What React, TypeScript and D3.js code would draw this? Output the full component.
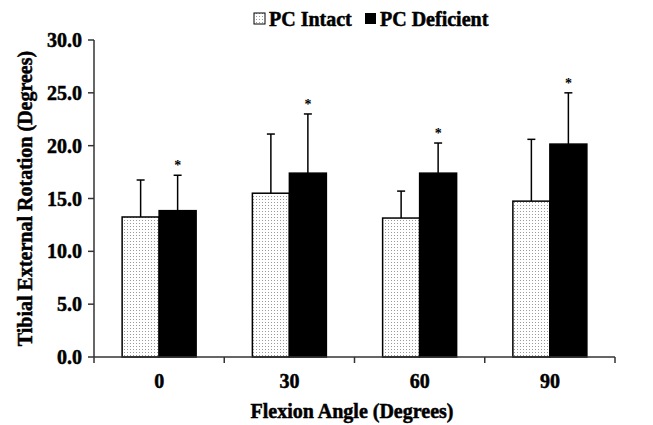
import React from "react";
import * as d3 from "d3";

const angles = ["0", "30", "60", "90"];
const intactMean = [13.25, 15.5, 13.15, 14.75];
const intactErr = [16.75, 21.1, 15.7, 20.6];
const deficientMean = [13.85, 17.4, 17.4, 20.15];
const deficientErr = [17.2, 23.0, 20.25, 25.0];
const yTicks = [0, 5, 10, 15, 20, 25, 30];

const W = 653;
const H = 425;
const margin = { top: 40, right: 38, bottom: 68, left: 94 };
const font = "'Liberation Serif', 'Times New Roman', serif";
const txt = { fontFamily: font, fontWeight: "bold" as const, fontSize: 20, stroke: "#000", strokeWidth: 0.5 };

export default function App() {
  const x = d3
    .scaleBand()
    .domain(angles)
    .range([margin.left, W - margin.right]);
  const y = d3.scaleLinear().domain([0, 30]).range([H - margin.bottom, margin.top]);
  const barW = 37;
  const y0 = y(0);

  const series = [
    { name: "PC Intact", mean: intactMean, err: intactErr, fill: "url(#dots)", off: -barW, star: false },
    { name: "PC Deficient", mean: deficientMean, err: deficientErr, fill: "#000", off: 0, star: true },
  ];

  return (
    <svg width={W} height={H} style={{ position: "absolute", left: 0, top: 0, background: "#fff" }}>
      <defs>
        <pattern id="dots" width="3" height="3" patternUnits="userSpaceOnUse">
          <rect width="3" height="3" fill="#fff" />
          <rect x="1" y="1" width="1" height="1" fill="#9a9a9a" />
        </pattern>
      </defs>

      {/* legend */}
      <g>
        <rect x={254} y={13} width={11} height={11} fill="url(#dots)" stroke="#000" strokeWidth={1} />
        <text x={269} y={26} {...txt}>PC Intact</text>
        <rect x={365} y={13} width={11} height={11} fill="#000" />
        <text x={380} y={26} {...txt}>PC Deficient</text>
      </g>

      {/* bars */}
      {series.map((s) =>
        angles.map((a, i) => {
          const cx = (x(a) as number) + x.bandwidth() / 2 + s.off;
          const mid = cx + barW / 2;
          return (
            <g key={s.name + a}>
              <line x1={mid} x2={mid} y1={y(s.mean[i])} y2={y(s.err[i])} stroke="#000" strokeWidth={1.5} />
              <line x1={mid - 4} x2={mid + 4} y1={y(s.err[i])} y2={y(s.err[i])} stroke="#000" strokeWidth={1.5} />
              <rect
                x={cx}
                y={y(s.mean[i])}
                width={barW}
                height={y0 - y(s.mean[i])}
                fill={s.fill}
                stroke="#000"
                strokeWidth={1.5}
              />
              {s.star && (
                <text x={mid} y={y(s.err[i]) - 5} textAnchor="middle" fontFamily={font} fontWeight="bold" fontSize={14}>
                  *
                </text>
              )}
            </g>
          );
        })
      )}

      {/* y axis */}
      <line x1={margin.left} x2={margin.left} y1={y(30)} y2={y0} stroke="#333" strokeWidth={1.5} />
      {yTicks.map((t) => (
        <g key={t}>
          <line x1={margin.left - 6} x2={margin.left} y1={y(t)} y2={y(t)} stroke="#333" strokeWidth={1.5} />
          <text x={margin.left - 12} y={y(t) + 7} textAnchor="end" {...txt}>
            {t.toFixed(1)}
          </text>
        </g>
      ))}

      {/* x axis */}
      <line x1={margin.left} x2={W - margin.right} y1={y0} y2={y0} stroke="#333" strokeWidth={1.5} />
      {angles.map((a) => (
        <g key={a}>
          <line x1={x(a) as number} x2={x(a) as number} y1={y0} y2={y0 + 6} stroke="#333" strokeWidth={1.5} />
          <text x={(x(a) as number) + x.bandwidth() / 2} y={y0 + 31} textAnchor="middle" {...txt}>
            {a}
          </text>
        </g>
      ))}
      <line x1={W - margin.right} x2={W - margin.right} y1={y0} y2={y0 + 6} stroke="#333" strokeWidth={1.5} />

      <text x={352} y={418} textAnchor="middle" {...txt}>
        Flexion Angle (Degrees)
      </text>
      <text transform={`translate(32,${(y(30) + y0) / 2}) rotate(-90)`} textAnchor="middle" {...txt}>
        Tibial External Rotation (Degrees)
      </text>
    </svg>
  );
}
